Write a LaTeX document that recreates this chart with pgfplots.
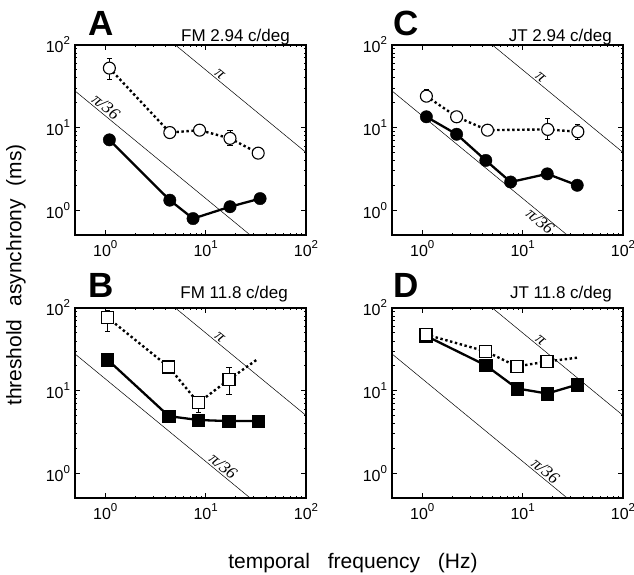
\documentclass[border=0pt]{standalone}
\usepackage{pgfplots}
\pgfplotsset{compat=1.18}
\usepackage{fontspec}
\setmainfont{Liberation Sans}
\newfontfamily\lserif{Liberation Serif}
\newcommand{\tp}[1]{10\raisebox{0.5em}{\fontsize{11.5}{11.5}\selectfont #1}}

\pgfplotsset{
  every axis/.append style={
    scale only axis, width=231pt, height=190pt,
    xmin=0.5, xmax=100, ymin=0.5, ymax=100,
    xtick={1,10,100}, ytick={1,10,100},
    xticklabels={\tp{0},\tp{1},\tp{2}},
    yticklabels={\tp{0},\tp{1},\tp{2}},
    tick align=inside, major tick length=5pt, minor tick length=2.5pt,
    axis line style={line width=1.3pt},
    every tick/.style={black, line width=0.7pt},
    tick label style={font=\fontsize{16}{16}\selectfont},
    xticklabel style={yshift=-2pt},
    yticklabel style={xshift=-1.5pt},
    anchor=south west,
  },
  mysolid/.style={black, line width=2.3pt, no markers},
  mydot/.style={black, line width=2.4pt, dash pattern=on 2.4pt off 2.6pt, no markers},
  myebar/.style={black, only marks, mark=none, forget plot,
    error bars/.cd, y dir=both, y explicit,
    error bar style={line width=0.9pt, solid},
    error mark options={rotate=90, mark size=2.6pt, line width=0.9pt}},
  myfcirc/.style={black, only marks, mark=*, mark size=6.2pt},
  myocirc/.style={black, only marks, mark=*, mark size=6pt, mark options={fill=white, line width=1.1pt}},
  myfsq/.style={black, only marks, mark=square*, mark size=6.3pt},
  myosq/.style={black, only marks, mark=square*, mark size=6pt, mark options={fill=white, line width=1.1pt}},
  myref/.style={black, line width=0.5pt, no markers},
}
\tikzset{mypilab/.style={sloped, inner sep=1.5pt, font=\fontsize{17}{17}\selectfont\lserif\itshape}}

\begin{document}
\begin{tikzpicture}[x=1pt,y=1pt]
\useasboundingbox (0,0) rectangle (634,575);

% ---------- Panel A ----------
\begin{loglogaxis}[at={(75pt,340pt)}]
\addplot[myref] coordinates {(5,100) (100,5)} node[mypilab, pos=0.31, above] {π};
\addplot[myref] coordinates {(0.5,27.78) (27.78,0.5)} node[mypilab, pos=0.15, above] {π/36};
\addplot[mysolid] coordinates {(1.1,7.1) (4.4,1.32) (7.5,0.79) (17.5,1.1) (34.9,1.38)};
\addplot[mydot] coordinates {(1.1,52.5) (4.4,8.7) (8.7,9.3) (17.5,7.4) (33.4,4.9)};
\addplot[myebar] coordinates {(1.1,52.5) += (0,17) -= (0,14) (17.5,7.4) += (0,1.7) -= (0,1.4) (33.4,4.9) += (0,0.6) -= (0,0.5)};
\addplot[myfcirc] coordinates {(1.1,7.1) (4.4,1.32) (7.5,0.79) (17.5,1.1) (34.9,1.38)};
\addplot[myocirc] coordinates {(1.1,52.5) (4.4,8.7) (8.7,9.3) (17.5,7.4) (33.4,4.9)};
\end{loglogaxis}

% ---------- Panel C ----------
\begin{loglogaxis}[at={(392pt,340pt)}]
\addplot[myref] coordinates {(5,100) (100,5)} node[mypilab, pos=0.34, above] {π};
\addplot[myref] coordinates {(0.5,27.78) (27.78,0.5)} node[mypilab, pos=0.87, below, inner sep=0.5pt] {π/36};
\addplot[mysolid] coordinates {(1.1,13.5) (2.2,8.3) (4.3,4.0) (7.6,2.19) (17.6,2.75) (35,2.0)};
\addplot[mydot] coordinates {(1.1,24) (2.2,13.5) (4.47,9.3) (17.8,9.5) (35.5,8.9)};
\addplot[myebar] coordinates {(1.1,24) += (0,5) -= (0,3) (2.2,13.5) += (0,1.5) -= (0,1.5) (17.8,9.5) += (0,3.3) -= (0,2.3) (35.5,8.9) += (0,2) -= (0,1.7)};
\addplot[myfcirc] coordinates {(1.1,13.5) (2.2,8.3) (4.3,4.0) (7.6,2.19) (17.6,2.75) (35,2.0)};
\addplot[myocirc] coordinates {(1.1,24) (2.2,13.5) (4.47,9.3) (17.8,9.5) (35.5,8.9)};
\end{loglogaxis}

% ---------- Panel B ----------
\begin{loglogaxis}[at={(75pt,77pt)}]
\addplot[myref] coordinates {(5,100) (100,5)} node[mypilab, pos=0.31, above] {π};
\addplot[myref] coordinates {(0.5,27.78) (27.78,0.5)} node[mypilab, pos=0.82, above] {π/36};
\addplot[mysolid] coordinates {(1.05,23.8) (4.3,4.9) (8.45,4.4) (16.9,4.27) (33.4,4.27)};
\addplot[mydot] coordinates {(1.05,77) (4.3,19.3) (8.45,7.1) (17.1,13.6) (33.4,24.3)};
\addplot[myebar] coordinates {(1.05,77) += (0,17) -= (0,25) (4.3,19.3) += (0,1) -= (0,2.5) (8.45,7.1) += (0,1.2) -= (0,1.6) (17.1,13.6) += (0,5.4) -= (0,4.6)};
\addplot[myfsq] coordinates {(1.05,23.8) (4.3,4.9) (8.45,4.4) (16.9,4.27) (33.4,4.27)};
\addplot[myosq] coordinates {(1.05,77) (4.3,19.3) (8.45,7.1) (17.1,13.6)};
\end{loglogaxis}

% ---------- Panel D ----------
\begin{loglogaxis}[at={(392pt,77pt)}]
\addplot[myref] coordinates {(5,100) (100,5)} node[mypilab, pos=0.34, above] {π};
\addplot[myref] coordinates {(0.5,27.78) (27.78,0.5)} node[mypilab, pos=0.85, above] {π/36};
\addplot[mysolid] coordinates {(1.09,46) (4.3,20.2) (8.8,10.6) (17.6,9.2) (35,11.8)};
\addplot[mydot] coordinates {(1.09,47.7) (4.3,29.8) (8.8,19.6) (17.5,22.5) (35,25)};
\addplot[myebar] coordinates {(1.09,47.7) += (0,4) -= (0,5) (8.8,19.6) += (0,1) -= (0,2.5) (35,11.8) += (0,1) -= (0,2)};
\addplot[myfsq] coordinates {(1.09,46) (4.3,20.2) (8.8,10.6) (17.6,9.2) (35,11.8)};
\addplot[myosq] coordinates {(1.09,47.7) (4.3,29.8) (8.8,19.6) (17.5,22.5)};
\end{loglogaxis}

% ---------- Titles ----------
\node[anchor=base west, inner sep=0, font=\fontsize{35}{35}\selectfont\bfseries] at (88,539) {A};
\node[anchor=base west, inner sep=0, font=\fontsize{35}{35}\selectfont\bfseries] at (88,277) {B};
\node[anchor=base west, inner sep=0, font=\fontsize{35}{35}\selectfont\bfseries] at (393,539) {C};
\node[anchor=base west, inner sep=0, font=\fontsize{35}{35}\selectfont\bfseries] at (393,277) {D};
\node[anchor=base east, inner sep=0, font=\fontsize{17}{17}\selectfont] at (290,533) {FM 2.94 c/deg};
\node[anchor=base east, inner sep=0, font=\fontsize{17}{17}\selectfont] at (612,533) {JT 2.94 c/deg};
\node[anchor=base east, inner sep=0, font=\fontsize{17}{17}\selectfont] at (288,276) {FM 11.8 c/deg};
\node[anchor=base east, inner sep=0, font=\fontsize{17}{17}\selectfont] at (612,276) {JT 11.8 c/deg};

% ---------- Axis labels ----------
\node[anchor=base, inner sep=0, font=\fontsize{21}{21}\selectfont] at (353,6) {temporal\hspace{12pt} frequency\hspace{12pt} (Hz)};
\node[rotate=90, anchor=north, inner sep=0, font=\fontsize{21}{21}\selectfont] at (6,300) {threshold\hspace{7pt} asynchrony\hspace{7pt} (ms)};
\end{tikzpicture}
\end{document}
